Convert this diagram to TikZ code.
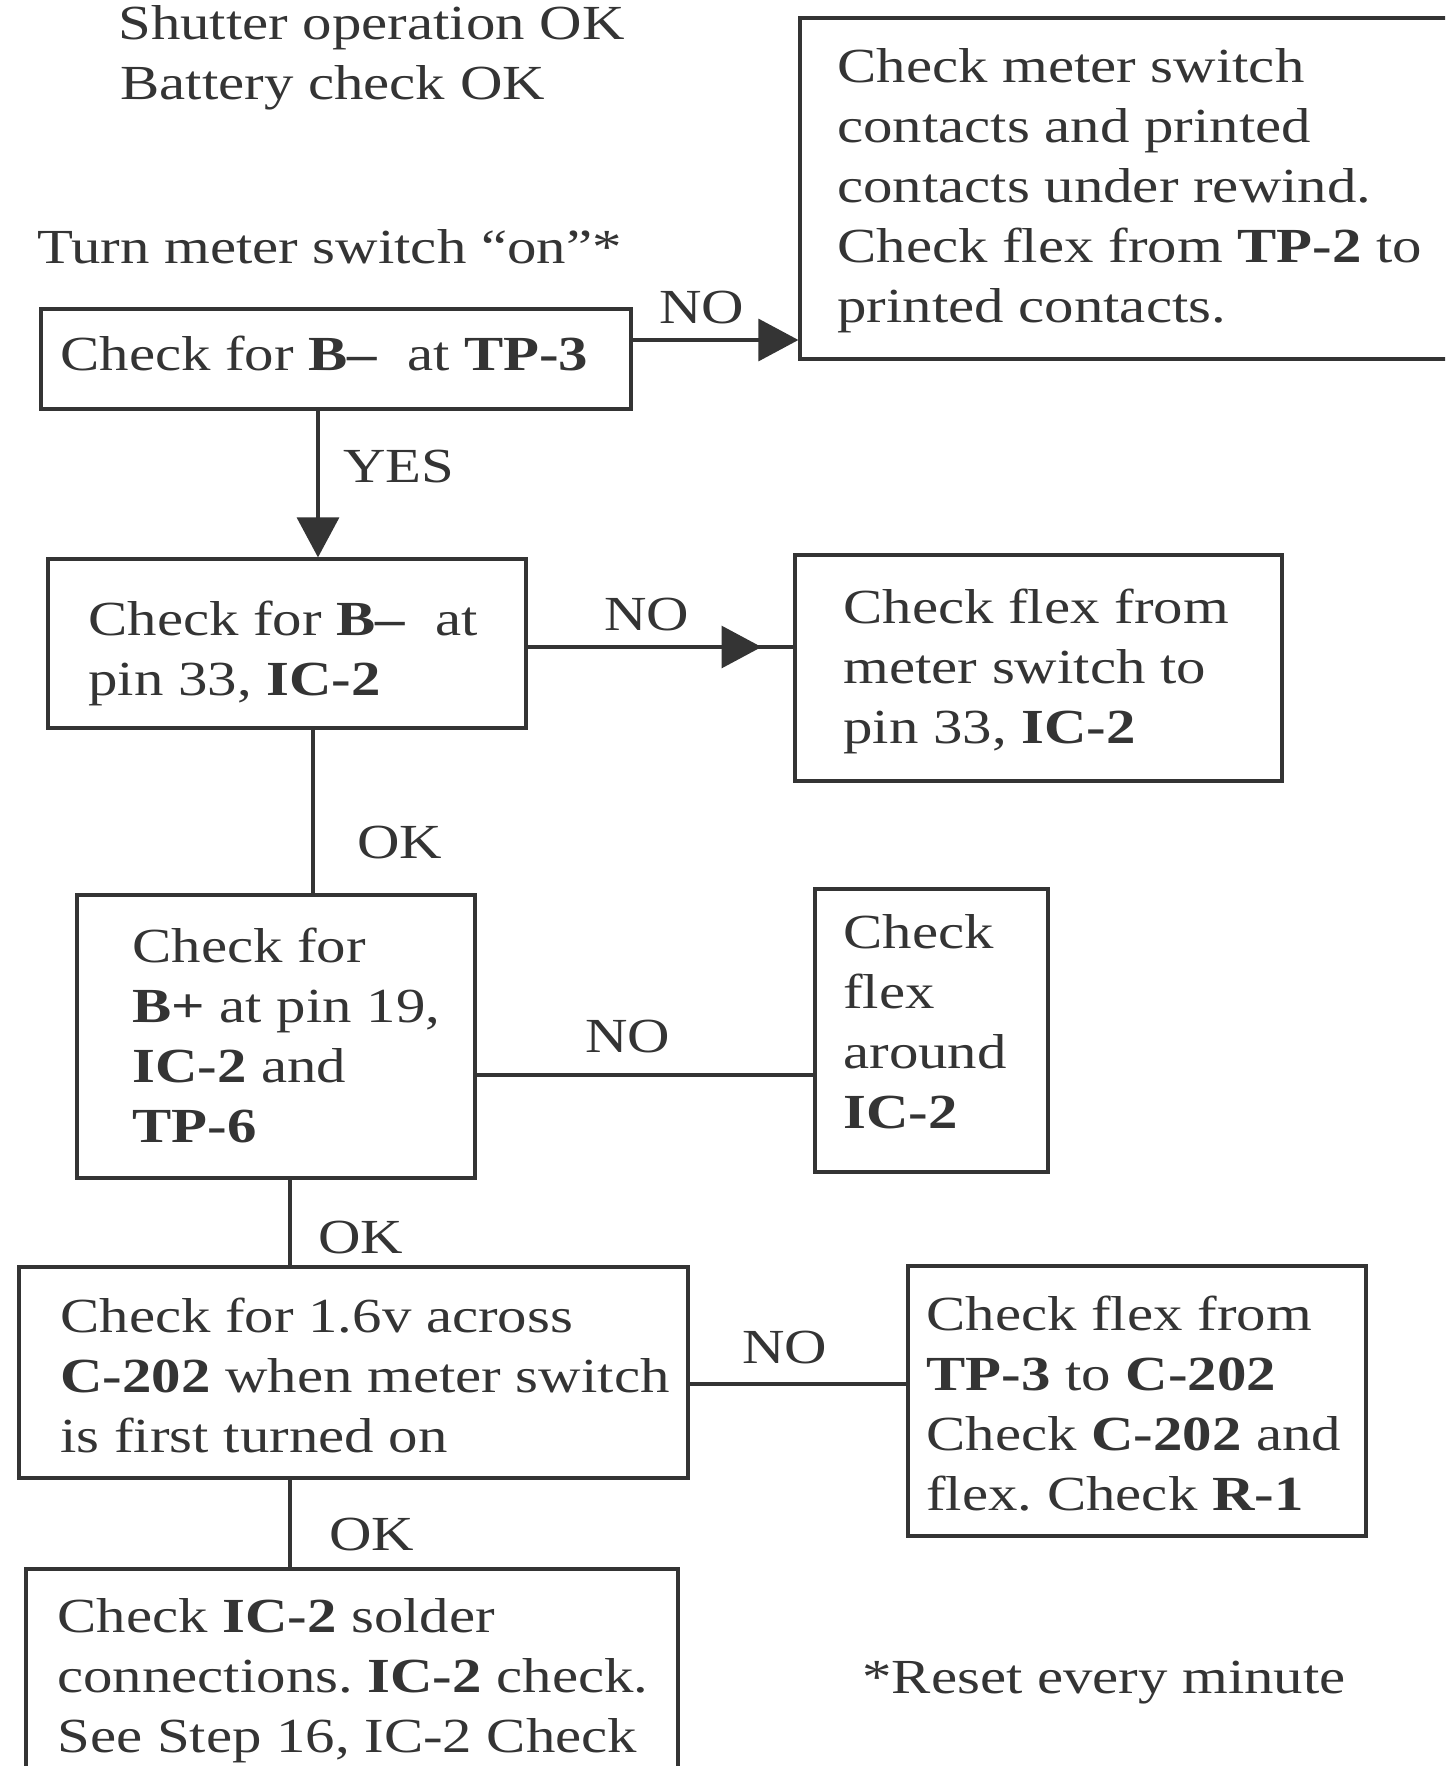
\documentclass[tikz,border=0pt]{standalone}
\usepackage{fontspec}
\setmainfont[FakeStretch=1.2]{Liberation Serif}
\usetikzlibrary{arrows.meta,fit,decorations.markings}
\definecolor{ink}{RGB}{52,52,52}
\frenchspacing
\begin{document}
\begin{tikzpicture}[x=0.5pt,y=-0.5pt,
  ink/.style={draw=ink,line width=1.6pt},
  box/.style={ink,rectangle,inner sep=0pt},
  txt/.style={text=ink,inner sep=0pt,anchor=base west,align=left,
    font=\fontsize{24.5}{30}\selectfont\frenchspacing},
  tip/.style={-{Triangle[length=20pt,width=21pt]}},
  midtip/.style={postaction={decorate},decoration={markings,
    mark=at position #1 with {\arrow{Triangle[length=20pt,width=21pt]}}}}]
\useasboundingbox[fill=white] (0,0) rectangle (1445,1766);
\clip (0,0) rectangle (1445,1766);

% heading notes
\node[txt] (n1) at (118,40) {Shutter operation OK};
\node[txt] (n2) at (120,100) {Battery check OK};
\node[txt] (n3) at (37,263) {Turn meter switch “on”*};
\node[txt] (n4) at (862,1693) {*Reset every minute};

% boxes
\node[box,fit={(800,18) (1465,359)}] (b1) {};
\node[box,fit={(41,309) (631,409)}] (b2) {};
\node[box,fit={(48,559) (526,728)}] (b3) {};
\node[box,fit={(795,555) (1282,781)}] (b4) {};
\node[box,fit={(77,895) (475,1178)}] (b5) {};
\node[box,fit={(815,889) (1048,1172)}] (b6) {};
\node[box,fit={(19,1267) (688,1478)}] (b7) {};
\node[box,fit={(908,1266) (1366,1536)}] (b8) {};
\node[box,fit={(26,1569) (678,1800)}] (b9) {};

% box texts (each placed by the baseline of its last line)
\node[txt] (t1) at (837,322) {Check meter switch\\contacts and printed\\contacts under rewind.\\Check flex from \textbf{TP-2} to\\printed contacts.};
\node[txt] (t2) at (60,370) {Check for \textbf{B--}\ \ at \textbf{TP-3}};
\node[txt] (t3) at (88,695) {Check for \textbf{B--}\ \ at\\pin 33, \textbf{IC-2}};
\node[txt] (t4) at (843,743) {Check flex from\\meter switch to\\pin 33, \textbf{IC-2}};
\node[txt] (t5) at (132,1142) {Check for\\\textbf{B+} at pin 19,\\\textbf{IC-2} and\\\textbf{TP-6}};
\node[txt] (t6) at (843,1128) {Check\\flex\\around\\\textbf{IC-2}};
\node[txt] (t7) at (60,1452) {Check for 1.6v across\\\textbf{C-202} when meter switch\\is first turned on};
\node[txt] (t8) at (926,1510) {Check flex from\\\textbf{TP-3} to \textbf{C-202}\\Check \textbf{C-202} and\\flex. Check \textbf{R-1}};
\node[txt] (t9) at (57,1752) {Check \textbf{IC-2} solder\\connections. \textbf{IC-2} check.\\See Step 16, IC-2 Check};

% connector levels
\coordinate (h1) at (0,340);
\coordinate (h2) at (0,647);
\coordinate (h3) at (0,1075);
\coordinate (h4) at (0,1384);
\coordinate (v1) at (318,0);
\coordinate (v2) at (313,0);
\coordinate (v3) at (290,0);

% connectors
\draw[ink,tip] (b2.east |- h1) -- (b1.west |- h1);
\draw[ink,tip] (b2.south -| v1) -- (b3.north -| v1);
\draw[ink,midtip=0.88] (b3.east |- h2) -- (b4.west |- h2);
\draw[ink] (b3.south -| v2) -- (b5.north -| v2);
\draw[ink] (b5.east |- h3) -- (b6.west |- h3);
\draw[ink] (b5.south -| v3) -- (b7.north -| v3);
\draw[ink] (b7.east |- h4) -- (b8.west |- h4);
\draw[ink] (b7.south -| v3) -- (b9.north -| v3);

% connector labels
\node[txt] (l1) at (659,323) {NO};
\node[txt] (l2) at (343,482) {YES};
\node[txt] (l3) at (604,630) {NO};
\node[txt] (l4) at (357,858) {OK};
\node[txt] (l5) at (585,1052) {NO};
\node[txt] (l6) at (318,1253) {OK};
\node[txt] (l7) at (742,1363) {NO};
\node[txt] (l8) at (329,1550) {OK};
\end{tikzpicture}
\end{document}
